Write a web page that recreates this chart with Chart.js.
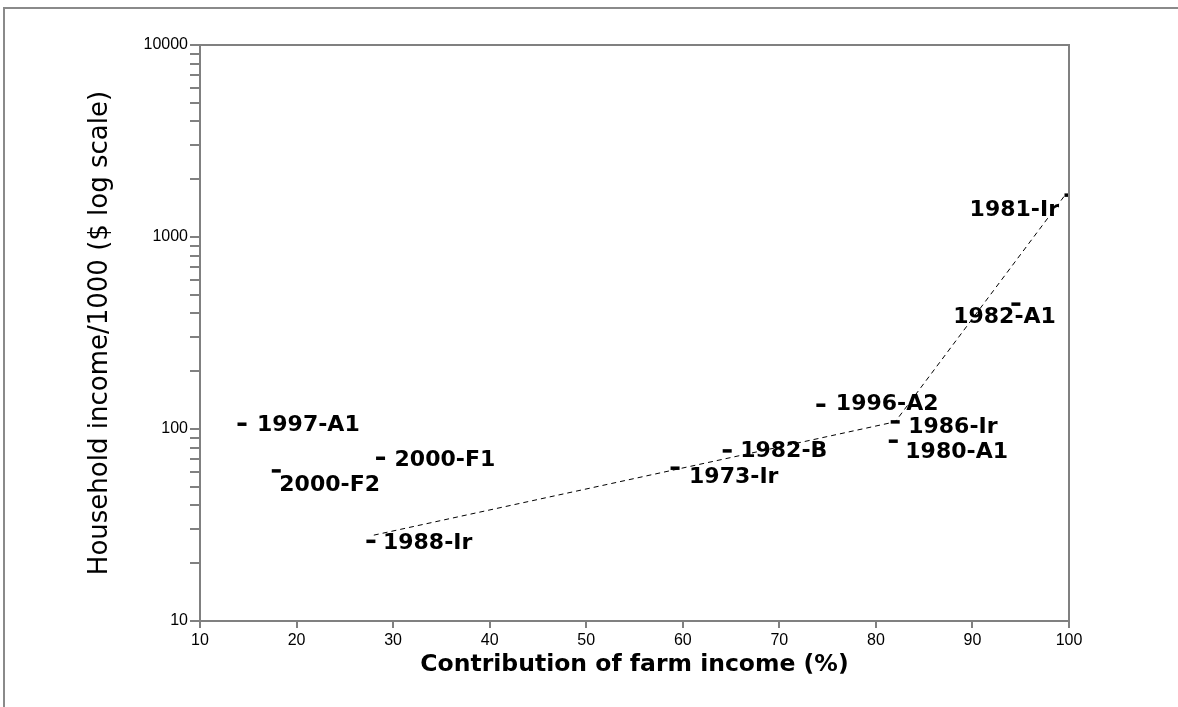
<!DOCTYPE html>
<html>
<head>
<meta charset="utf-8">
<script src="https://cdn.jsdelivr.net/npm/chart.js@4/dist/chart.umd.min.js"></script>
<style>
  html, body { margin: 0; padding: 0; background: #fff; overflow: hidden; }
  #frame { position: absolute; left: 3px; top: 7px; width: 1300px; height: 800px;
           border-left: 2px solid #8a8a8a; border-top: 2px solid #8a8a8a; }
  #chart { position: absolute; left: 0; top: 0; }
</style>
</head>
<body>
<div id="frame"></div>
<canvas id="chart" width="1178" height="707"></canvas>
<script>
// observations (label, % farm income, household income/1000)
var pointLabels = ['1997-A1', '2000-F2', '2000-F1', '1988-Ir', '1973-Ir', '1982-B',
                   '1996-A2', '1986-Ir', '1980-A1', '1982-A1', '1981-Ir'];
var farmShare = [14.35, 17.9, 28.7, 27.7, 59.2, 64.6, 74.3, 82.0, 81.8, 94.5, 100];
var householdIncome = [105.9, 60.5, 70.4, 26.0, 62.5, 76.9, 133, 108.9, 86.4, 447, 1652];

// dashed trend line vertices
var trendShare = [28, 82, 99.5];
var trendIncome = [28, 109, 1630];

var xTicks = [10, 20, 30, 40, 50, 60, 70, 80, 90, 100];
var yMajorTicks = [10, 100, 1000, 10000];

// label placement relative to each marker (px): dx, dy, align
var labelOffsets = [
    [15, 1, 'left'], [3, 14, 'left'], [14, 2, 'left'], [12, 2, 'left'],
    [14, 9, 'left'], [13, 0, 'left'], [15, -1, 'left'], [13, 5, 'left'],
    [12, 11, 'left'], [40, 13, 'right'], [-10, 15, 'right']
];

var yTickValues = [];
for (var d = 0; d < yMajorTicks.length - 1; d++) {
    for (var m = 1; m < 10; m++) yTickValues.push(yMajorTicks[d] * m);
}
yTickValues.push(yMajorTicks[yMajorTicks.length - 1]);

var axisGray = '#808080';

var pointLabelPlugin = {
    id: 'pointLabels',
    afterDatasetsDraw: function(chart) {
        var ctx = chart.ctx;
        var xs = chart.scales.x, ys = chart.scales.y;
        ctx.save();
        ctx.fillStyle = '#000';
        ctx.font = 'bold 22px "DejaVu Sans"';
        ctx.textBaseline = 'middle';
        for (var i = 0; i < pointLabels.length; i++) {
            var o = labelOffsets[i];
            ctx.textAlign = o[2];
            ctx.fillText(pointLabels[i],
                xs.getPixelForValue(farmShare[i]) + o[0],
                ys.getPixelForValue(householdIncome[i]) + o[1]);
        }
        ctx.restore();
    }
};

var boxPlugin = {
    id: 'box',
    afterDraw: function(chart) {
        var a = chart.chartArea, ctx = chart.ctx;
        ctx.save();
        ctx.strokeStyle = axisGray;
        ctx.lineWidth = 2;
        ctx.beginPath();
        ctx.moveTo(a.left, a.top);
        ctx.lineTo(a.right, a.top);
        ctx.lineTo(a.right, a.bottom);
        ctx.stroke();
        ctx.restore();
    }
};

var points = farmShare.map(function(v, i) { return {x: v, y: householdIncome[i]}; });
var trend = trendShare.map(function(v, i) { return {x: v, y: trendIncome[i]}; });

var ctx = document.getElementById('chart').getContext('2d');
var chart = new Chart(ctx, {
    type: 'scatter',
    data: {
        datasets: [{
            type: 'line',
            data: trend,
            borderColor: '#000',
            borderWidth: 1,
            borderDash: [5, 4],
            pointRadius: 0,
            fill: false,
            tension: 0
        }, {
            data: points,
            pointStyle: 'line',
            pointRadius: 4.5,
            pointBorderWidth: 3.5,
            borderColor: '#000',
            backgroundColor: '#000'
        }]
    },
    options: {
        responsive: false,
        animation: false,
        layout: { padding: { top: 45, right: 109, bottom: 26, left: 0 } },
        plugins: { legend: { display: false }, tooltip: { enabled: false } },
        scales: {
            x: {
                type: 'linear',
                min: 10,
                max: 100,
                afterFit: function(s) { s.height = 60; },
                afterBuildTicks: function(s) {
                    s.ticks = xTicks.map(function(v) { return {value: v}; });
                },
                border: { color: axisGray, width: 2 },
                grid: { drawOnChartArea: false, drawTicks: true, tickLength: 7, color: axisGray, lineWidth: 2 },
                ticks: {
                    color: '#000',
                    padding: 3,
                    maxRotation: 0,
                    font: { family: '"Liberation Sans", Arial', size: 16 }
                },
                title: {
                    display: true,
                    text: 'Contribution of farm income (%)',
                    color: '#000',
                    font: { family: '"DejaVu Sans"', size: 23.5, weight: 'bold' },
                    padding: { top: 0, bottom: 2 }
                }
            },
            y: {
                type: 'logarithmic',
                min: 10,
                max: 10000,
                afterFit: function(s) { s.width = 200; },
                afterBuildTicks: function(s) {
                    s.ticks = yTickValues.map(function(v) { return {value: v}; });
                },
                border: { color: axisGray, width: 2 },
                grid: { drawOnChartArea: false, drawTicks: true, tickLength: 10, color: axisGray, lineWidth: 2 },
                ticks: {
                    color: '#000',
                    padding: 2,
                    autoSkip: false,
                    font: { family: '"Liberation Sans", Arial', size: 16 },
                    callback: function(value) {
                        return yMajorTicks.indexOf(value) >= 0 ? String(value) : '';
                    }
                },
                title: {
                    display: true,
                    text: 'Household income/1000 ($ log scale)',
                    color: '#000',
                    font: { family: '"DejaVu Sans"', size: 26 },
                    padding: { top: 85, bottom: 0 }
                }
            }
        }
    },
    plugins: [pointLabelPlugin, boxPlugin]
});
</script>
</body>
</html>
